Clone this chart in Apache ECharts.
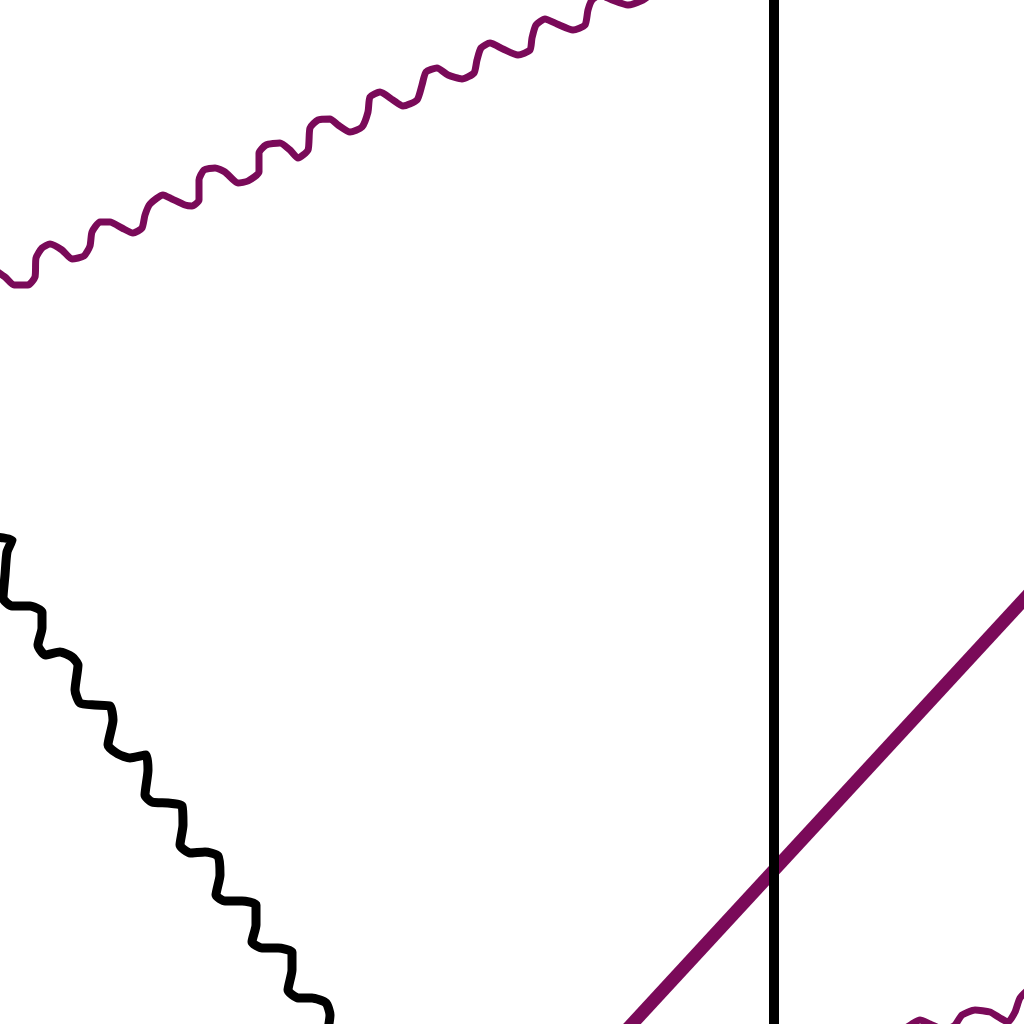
<!DOCTYPE html>
<html>
<head>
<meta charset="utf-8">
<script src="https://cdn.jsdelivr.net/npm/echarts@6/dist/echarts.min.js"></script>
<style>
html,body{margin:0;padding:0;background:#fff;}
#chart{width:1024px;height:1024px;}
</style>
</head>
<body>
<div id="chart"></div>
<script>
// Visible window of the chart (in data units)
var xRange = [0, 1024];
var yRange = [0, 1024];

// Upper purple wavy line
var purpleWaveTop = [
  [-5,270],[5,277],[14,285],[28,285],[35,277],[36,258],[42,248],[50,244],[62,250],[72,259],
  [84,256],[90,246],[92,232],[100,222],[110,222],[122,228],[133,233],[142,228],[145,215],[150,204],
  [163,195],[172,199],[185,205],[192,206],[199,200],[199,180],[204,170],[215,168],[225,172],[238,183],
  [248,181],[259,172],[259,153],[266,145],[280,143],[290,150],[298,158],[308,150],[310,128],[318,120],
  [330,119],[338,125],[350,132],[362,127],[368,112],[370,97],[380,92],[393,100],[403,106],[417,100],
  [422,85],[426,72],[437,68],[448,75],[462,79],[474,73],[477,60],[481,48],[490,43],[503,49],
  [518,55],[530,50],[532,38],[536,25],[545,19],[557,24],[573,30],[585,25],[588,10],[592,0],
  [600,-5],[612,0],[628,5],[643,0],[650,-5]
];

// Lower-right purple wavy line (partly visible)
var purpleWaveBottom = [
  [900,1032],[912,1024],[920,1020],[930,1024],[945,1030],[955,1025],[962,1015],[975,1010],
  [990,1012],[1000,1018],[1008,1022],[1015,1012],[1020,998],[1030,988]
];

// Straight purple line
var purpleStraight = [[620,1037],[1040,582]];

// Black wavy line
var blackWave = [
  [-5,537],[12,540],[7,552],[5,575],[3,598],[12,606],[30,606],[42,612],[42,628],[38,645],
  [45,655],[60,652],[72,657],[78,665],[75,690],[80,703],[95,705],[110,706],[113,720],[108,745],
  [118,754],[130,758],[146,755],[148,770],[145,795],[152,802],[168,803],[182,806],[183,825],[180,845],
  [190,853],[205,852],[218,856],[220,875],[216,895],[225,901],[242,901],[256,905],[256,925],[252,942],
  [262,948],[278,948],[292,952],[292,970],[288,990],[298,998],[312,998],[326,1003],[330,1015],[327,1035]
];

// Black vertical line
var blackVertical = [[774,-10],[774,1034]];

var purple = '#7a0a59';
var black = '#000000';

var chart = echarts.init(document.getElementById('chart'), null, {renderer:'canvas'});
function lineSeries(name, data, color, width, smooth){
  return {
    name: name, type: 'line', data: data, showSymbol: false, symbol: 'none',
    smooth: smooth, clip: true, silent: true, animation: false,
    lineStyle: {color: color, width: width, cap: 'butt', join: 'round'}
  };
}
chart.setOption({
  animation: false,
  backgroundColor: '#ffffff',
  grid: {left: 0, right: 0, top: 0, bottom: 0, containLabel: false},
  xAxis: {type: 'value', min: xRange[0], max: xRange[1], show: false},
  yAxis: {type: 'value', min: yRange[0], max: yRange[1], inverse: true, show: false},
  series: [
    lineSeries('purpleWaveTop', purpleWaveTop, purple, 7, 0.2),
    lineSeries('purpleWaveBottom', purpleWaveBottom, purple, 7, 0.2),
    lineSeries('purpleStraight', purpleStraight, purple, 13, false),
    lineSeries('blackWave', blackWave, black, 9, 0.2),
    lineSeries('blackVertical', blackVertical, black, 10, false)
  ]
});
</script>
</body>
</html>
